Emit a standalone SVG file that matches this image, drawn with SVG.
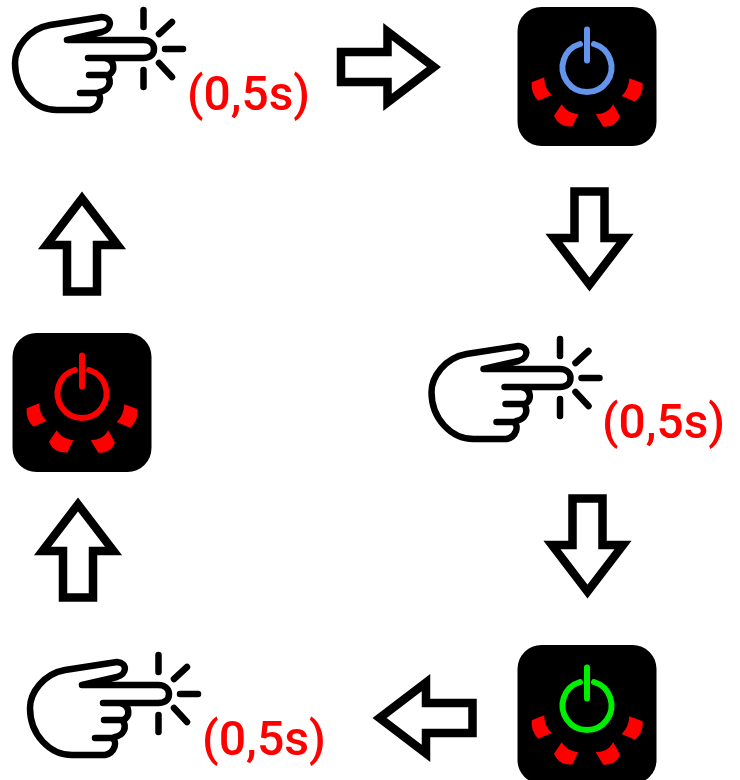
<svg xmlns="http://www.w3.org/2000/svg" width="740" height="780" viewBox="0 0 740 780">
<style>
.h{fill:none;stroke:#000;stroke-width:6.500;stroke-linecap:round;stroke-linejoin:round}
.a{fill:#fff;stroke:#000;stroke-width:8.500;stroke-miterlimit:10}
.t{font-family:"Roboto","Liberation Sans",sans-serif;font-size:49px;font-weight:500;fill:#ff0000}
.s{fill:#ff0000}
.p{fill:none;stroke-width:6;stroke-linecap:round}
</style>
<defs>
<path id="arrow" class="a" d="M-47.500,-15H-1V-35.500L45.500,0L-1,35.500V15H-47.500Z"/>
<g id="hand">
<path class="h" d="M67,40L102,32C112,29 113,18 102,17L50,25C28,29 15,48 15,63C15,90 35,110 57,110H90C100,108 103,96 97,93H80M67,40H143C151,40 154,45 154,49C154,54 151,58 143,58H88M105,58C115,60 116,72 108,75H89M108,76C112,82 109,90 100,92"/>
<path class="h" d="M143.500,10V27M172,22L159,34M165,49H183M159,63L172,77M143.500,70V87"/>
</g>
<g id="power">
<rect x="517.500" y="7" width="139" height="139" rx="24" fill="#000"/>
<path class="s" d="M531.700,82.300L544.300,77.300Q544,88 551.700,95L538.300,100.700Q530.500,93 531.700,82.300Z"/>
<path class="s" d="M561.700,104.300Q566.500,113 578.300,114.300L572.300,126.500Q559,127.500 554,115.700Z"/>
<path class="s" d="M595.700,114.300Q608,114 613.300,104.300L620,116.700Q615.500,127.500 603.300,126.700Z"/>
<path class="s" d="M629.300,78.300L642.700,83.300Q643.500,95 635,101.700L621.700,96Q629,89 629.300,78.300Z"/>
</g>
</defs>
<g id="connectors">
<use href="#arrow" transform="translate(388.500,67)"/>
<use href="#arrow" transform="translate(589.500,239) rotate(90)"/>
<use href="#arrow" transform="translate(587.500,546) rotate(90)"/>
<use href="#arrow" transform="translate(425,718) rotate(180)"/>
<use href="#arrow" transform="translate(78,550) rotate(-90)"/>
<use href="#arrow" transform="translate(82,244) rotate(-90)"/>
</g>
<g id="hand-1"><use href="#hand"/><text class="t" x="187" y="110" textLength="123" lengthAdjust="spacingAndGlyphs">(0,5s)</text></g>
<g id="power-blue"><use href="#power"/><path class="p" stroke="#6495ed" d="M580,44A24.500,24.500 0 1 0 594,44M587,29.500V60.500"/></g>
<g id="hand-2"><use href="#hand" x="416.500" y="329"/><text class="t" x="602" y="438" textLength="123" lengthAdjust="spacingAndGlyphs">(0,5s)</text></g>
<g id="power-green"><use href="#power" y="638"/><path class="p" stroke="#00ee00" d="M580,682A24.500,24.500 0 1 0 594,682M587,667.500V698.500"/></g>
<g id="hand-3"><use href="#hand" x="15" y="645"/><text class="t" x="202" y="755" textLength="124" lengthAdjust="spacingAndGlyphs">(0,5s)</text></g>
<g id="power-red"><use href="#power" x="-505" y="326"/><path class="p" stroke="#ff0000" d="M75,370A24.500,24.500 0 1 0 89,370M82,355.500V386.500"/></g>
</svg>
